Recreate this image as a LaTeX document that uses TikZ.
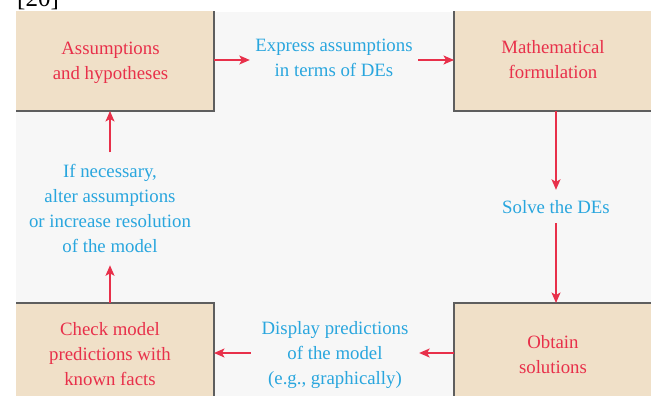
\documentclass[tikz,border=0pt]{standalone}
\usepackage{fontspec}
\setmainfont{Liberation Serif}
\usetikzlibrary{arrows.meta}
\definecolor{boxfill}{HTML}{F0E0C8}
\definecolor{panel}{HTML}{F7F7F7}
\definecolor{edge}{HTML}{5E5E5E}
\definecolor{redtxt}{HTML}{E8304A}
\definecolor{bluetxt}{HTML}{29A6DE}
\begin{document}
\begin{tikzpicture}[x=1pt,y=-1pt,
  box/.style={fill=boxfill,draw=edge,line width=1.5pt,inner sep=0pt,outer sep=0pt},
  redt/.style={text=redtxt,align=center,font=\fontsize{18.8}{25}\selectfont,inner sep=0pt},
  bluet/.style={text=bluetxt,align=center,font=\fontsize{18.8}{25}\selectfont,inner sep=0pt},
  arr/.style={draw=redtxt,line width=1.3pt,-{Stealth[length=10.5pt,width=9pt,inset=2.5pt]}}]
\useasboundingbox (0,0) rectangle (651,396);
\clip (0,0) rectangle (651,396);
\node[anchor=base west,font=\fontsize{25}{25}\selectfont,inner sep=0pt] (ref) at (17,7) {[20]};
\begin{scope}
  \clip (16,12) rectangle (651,396);
  \fill[panel] (16,12) rectangle (651,396);
  \node[box,minimum width=224pt,minimum height=121pt] (b1) at (102,50.5) {};
  \node[box,minimum width=216pt,minimum height=121pt] (b2) at (562,50.5) {};
  \node[box,minimum width=224pt,minimum height=117pt] (b3) at (102,361.5) {};
  \node[box,minimum width=216pt,minimum height=117pt] (b4) at (562,361.5) {};
\end{scope}
% box texts
\node[redt] (t1) at (110.5,62.6) {Assumptions\\and hypotheses};
\node[redt] (t2) at (553,59.4) {Mathematical\\formulation};
\node[redt] (t3) at (110,354.2) {Check model\\predictions with\\known facts};
\node[redt] (t4) at (553,354.2) {Obtain\\solutions};
% connector texts
\node[bluet,inner xsep=5.4pt] (m1) at (334,57.4) {Express assumptions\\in terms of DEs};
\node[bluet,inner ysep=10pt] (m2) at (556,206.6) {Solve the DEs};
\node[bluet,inner xsep=10.6pt] (m3) at (335,355) {Display predictions\\of the model\\(e.g., graphically)};
\node[bluet,inner ysep=12pt] (m4) at (110,208.9) {If necessary,\\alter assumptions\\or increase resolution\\of the model};
% connectors
\coordinate (r1) at (0,60);
\coordinate (r3) at (0,353);
\draw[arr] (b1.east |- r1) -- (m1.west |- r1);
\draw[arr] (m1.east |- r1) -- (b2.west |- r1);
\draw[arr] (b2.south -| m2) -- (m2.north);
\draw[arr] (m2.south) -- (m2 |- b4.north);
\draw[arr] (b4.west |- r3) -- (m3.east |- r3);
\draw[arr] (m3.west |- r3) -- (b3.east |- r3);
\draw[arr] (b3.north -| m4) -- (m4.south);
\draw[arr] (m4.north) -- (m4 |- b1.south);
\end{tikzpicture}
\end{document}
